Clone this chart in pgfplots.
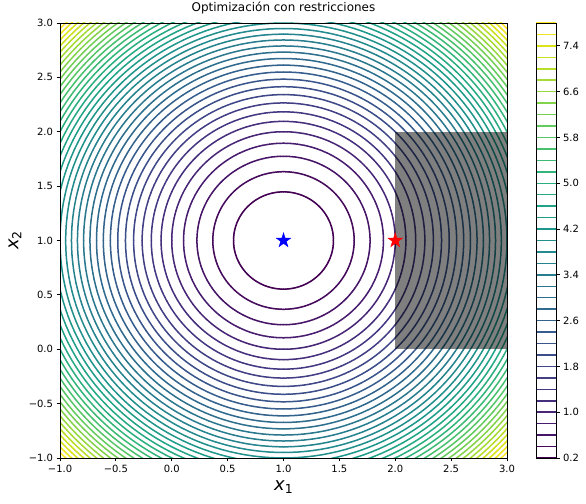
\documentclass[border=0pt]{standalone}
\usepackage{pgfplots}
\pgfplotsset{compat=1.18}
\usepgfplotslibrary{colormaps}
\usepackage{fontspec}
\setmainfont{DejaVu Sans}
\pgfdeclareplotmark{fstar}{%
 \pgfpathmoveto{\pgfpointpolar{90}{\pgfplotmarksize}}%
 \pgfpathlineto{\pgfpointpolar{126}{0.382\pgfplotmarksize}}%
 \pgfpathlineto{\pgfpointpolar{162}{\pgfplotmarksize}}%
 \pgfpathlineto{\pgfpointpolar{198}{0.382\pgfplotmarksize}}%
 \pgfpathlineto{\pgfpointpolar{234}{\pgfplotmarksize}}%
 \pgfpathlineto{\pgfpointpolar{270}{0.382\pgfplotmarksize}}%
 \pgfpathlineto{\pgfpointpolar{306}{\pgfplotmarksize}}%
 \pgfpathlineto{\pgfpointpolar{342}{0.382\pgfplotmarksize}}%
 \pgfpathlineto{\pgfpointpolar{18}{\pgfplotmarksize}}%
 \pgfpathlineto{\pgfpointpolar{54}{0.382\pgfplotmarksize}}%
 \pgfpathclose\pgfusepathqfillstroke}
\begin{document}
\begin{tikzpicture}
\useasboundingbox (-60bp,-46bp) rectangle (526bp,458bp);
\begin{axis}[
 at={(0,0)}, anchor=south west,
 scale only axis, width=447bp, height=435bp,
 xmin=-1, xmax=3, ymin=-1, ymax=3,
 colormap/viridis,
 point meta min=0.2, point meta max=7.8,
 axis on top,
 axis line style={line width=0.8bp},
 every tick/.style={line width=0.8bp, black},
 major tick length=3.5bp,
 tick align=outside,
 xtick pos=left, ytick pos=left,
 xtick={-1,-0.5,0,0.5,1,1.5,2,2.5,3},
 ytick={-1,-0.5,0,0.5,1,1.5,2,2.5,3},
 xticklabels={−1.0,−0.5,0.0,0.5,1.0,1.5,2.0,2.5,3.0},
 yticklabels={−1.0,−0.5,0.0,0.5,1.0,1.5,2.0,2.5,3.0},
 ticklabel style={font=\fontsize{10}{12}\selectfont},
 title={Optimización con restricciones},
 title style={font=\fontsize{12}{14}\selectfont, at={(axis description cs:0.5,1)}, anchor=base, yshift=6bp},
 xlabel={\itshape x\upshape\raisebox{-0.3ex}{\fontsize{12.5}{13}\selectfont 1}},
 ylabel={\itshape x\upshape\raisebox{-0.3ex}{\fontsize{12.5}{13}\selectfont 2}},
 xlabel style={font=\fontsize{18}{20}\selectfont, at={(axis description cs:0.5,-0.0667)}, anchor=center},
 ylabel style={font=\fontsize{18}{20}\selectfont, at={(axis description cs:-0.1007,0.5)}, anchor=center, rotate=0},
]
\pgfplotsinvokeforeach{0.2,0.4,0.6,0.8,1.0,1.2,1.4,1.6,1.8,2.0,2.2,2.4,2.6,2.8,3.0,3.2,3.4,3.6,3.8,4.0,4.2,4.4,4.6,4.8,5.0,5.2,5.4,5.6,5.8,6.0,6.2,6.4,6.6,6.8,7.0,7.2,7.4,7.6,7.8}{
 \addplot[mesh, point meta=#1, line width=1.5bp, line cap=round, domain=0:360, samples=181]
 ({1+sqrt(#1)*cos(x)},{1+sqrt(#1)*sin(x)});
}
\addplot[draw=none, fill=black, fill opacity=0.5] coordinates {(2,0) (3,0) (3,2) (2,2)} -- cycle;
\addplot[only marks, mark=fstar, mark size=7.5bp, draw=blue, fill=blue, mark options={line width=0.5bp}] coordinates {(1,1)};
\addplot[only marks, mark=fstar, mark size=7.5bp, draw=red, fill=red, mark options={line width=0.5bp}] coordinates {(2,1)};
\end{axis}
\begin{axis}[
 at={(476bp,0)}, anchor=south west,
 scale only axis, width=20bp, height=435bp,
 xmin=0, xmax=1, ymin=0.2, ymax=7.8,
 colormap/viridis,
 point meta min=0.2, point meta max=7.8,
 axis on top,
 axis line style={line width=0.8bp},
 every tick/.style={line width=0.8bp, black},
 major tick length=3.5bp,
 tick align=outside,
 xtick=\empty,
 ytick pos=right, yticklabel pos=right,
 ytick={0.2,1.0,1.8,2.6,3.4,4.2,5.0,5.8,6.6,7.4},
 yticklabels={0.2,1.0,1.8,2.6,3.4,4.2,5.0,5.8,6.6,7.4},
 ticklabel style={font=\fontsize{10}{12}\selectfont},
]
\pgfplotsinvokeforeach{0.2,0.4,0.6,0.8,1.0,1.2,1.4,1.6,1.8,2.0,2.2,2.4,2.6,2.8,3.0,3.2,3.4,3.6,3.8,4.0,4.2,4.4,4.6,4.8,5.0,5.2,5.4,5.6,5.8,6.0,6.2,6.4,6.6,6.8,7.0,7.2,7.4,7.6,7.8}{
 \addplot[mesh, point meta=#1, line width=1.5bp] coordinates {(0,#1) (1,#1)};
}
\end{axis}
\end{tikzpicture}
\end{document}
